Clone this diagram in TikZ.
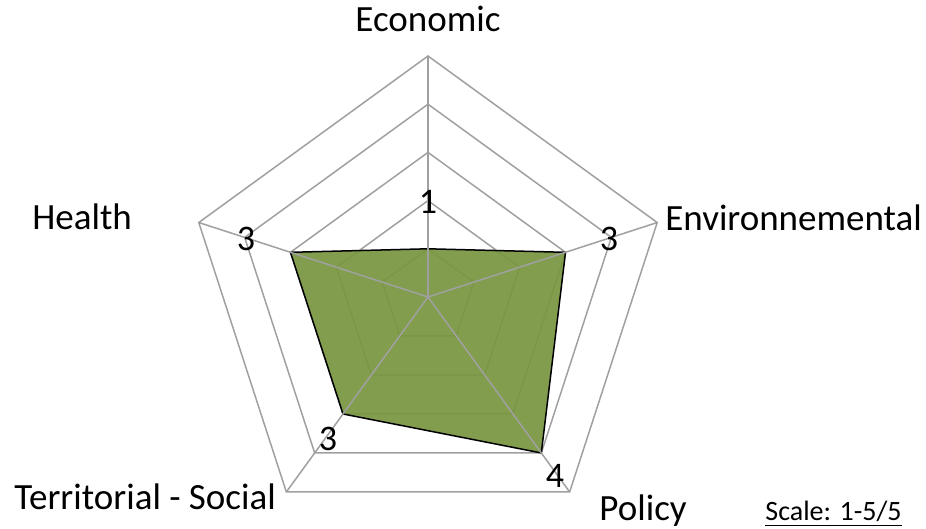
\documentclass[tikz,border=0pt]{standalone}
\usepackage{fontspec}
\setmainfont{Carlito}
\definecolor{radarfill}{RGB}{121,150,65}
\definecolor{ringgray}{RGB}{160,160,160}
\tikzset{
  ringline/.style={draw=ringgray,line width=0.75pt},
  datapoly/.style={draw=black,line width=0.75pt,fill=radarfill,fill opacity=0.93},
  catlabel/.style={inner sep=0pt,anchor=base west,font=\fontsize{18.5}{22}\selectfont},
  vallabel/.style={inner sep=0pt,font=\fontsize{18}{22}\selectfont}
}
\begin{document}
\begin{tikzpicture}[x=0.5pt,y=0.5pt]
\useasboundingbox (-428,-232) rectangle (498,297);
\foreach \r in {48.2,96.4,144.6,192.8,241}
  \draw[ringline](90:\r)--(18:\r)--(-54:\r)--(-126:\r)--(162:\r)--cycle;
\draw[datapoly](90:48.2)--(18:144.6)--(-54:192.8)--(-126:144.6)--(162:144.6)--cycle;
\foreach \a in {90,18,-54,-126,162}
  \draw[ringline](0,0)--(\a:241);
\node[catlabel,anchor=base](eco) at (0,265){Economic};
\node[catlabel](env) at (237,66){Environnemental};
\node[catlabel](pol) at (171,-224){Policy};
\node[catlabel](ter) at (-414,-213){Territorial - Social};
\node[catlabel](hea) at (-396,67){Health};
\node[catlabel,font=\fontsize{14}{16}\selectfont](scl) at (337,-224){\underline{Scale: 1-5/5}};
\node[vallabel](veco) at (0,95){1};
\node[vallabel](venv) at (181,58){3};
\node[vallabel](vpol) at (127,-179){4};
\node[vallabel](vter) at (-100,-142){3};
\node[vallabel](vhea) at (-182,58){3};
\end{tikzpicture}
\end{document}
